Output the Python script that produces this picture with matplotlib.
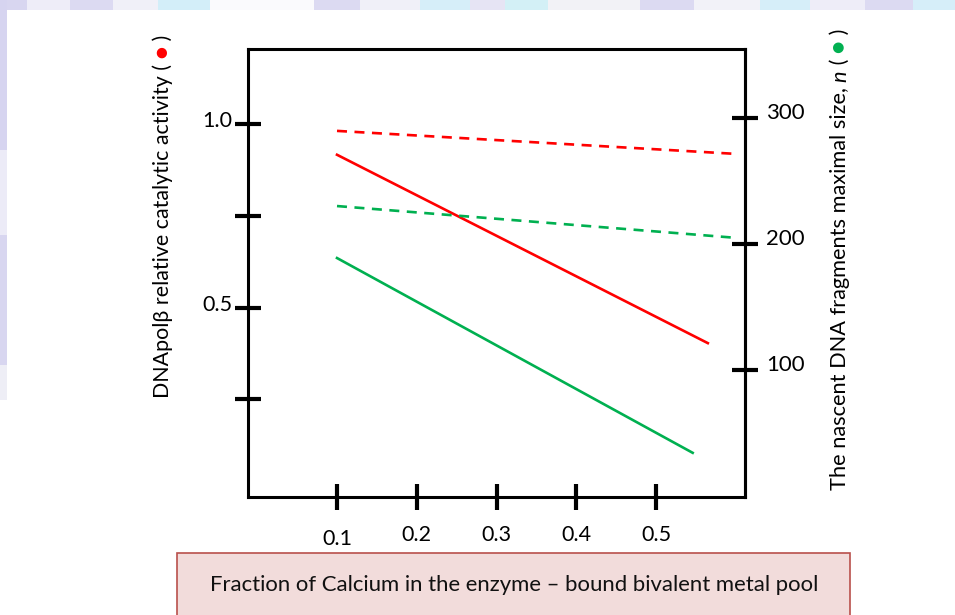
import matplotlib
matplotlib.use("Agg")
import matplotlib.pyplot as plt
import matplotlib.transforms as mtransforms
from matplotlib.patches import Rectangle

plt.rcParams['font.family'] = ['Lato', 'DejaVu Sans']
plt.rcParams['lines.scale_dashes'] = False

# ---------------- data ----------------
red_solid_x = [0.1, 0.565]
red_solid_y = [0.916, 0.403]          # left axis
red_dash_x = [0.1, 0.603]
red_dash_y = [0.981, 0.918]           # left axis
green_solid_x = [0.1, 0.546]
green_solid_y = [188.9, 34.1]         # right axis
green_dash_x = [0.1, 0.603]
green_dash_y = [230.2, 204.8]         # right axis

x_ticks = [0.1, 0.2, 0.3, 0.4, 0.5]
x_tick_labels = ['0.1', '0.2', '0.3', '0.4', '0.5']
left_ticks = [0.25, 0.5, 0.75, 1.0]
left_tick_labels = ['', '0.5', '', '1.0']
right_ticks = [100, 200, 300]
right_tick_labels = ['100', '200', '300']

left_label_parts = [("DNApolβ relative catalytic activity (", 'black', 'normal'),
                    (" ●", '#FF0000', 'normal'),
                    (" )", 'black', 'normal')]
right_label_parts = [("The nascent DNA fragments maximal size, ", 'black', 'normal'),
                     ("n", 'black', 'italic'),
                     (" (", 'black', 'normal'),
                     (" ●", '#00B050', 'normal'),
                     (" )", 'black', 'normal')]
x_title = "Fraction of Calcium in the enzyme – bound bivalent metal pool"

RED = '#FF0000'
GREEN = '#00B050'

# ---------------- figure ----------------
W, H = 955, 615
fig = plt.figure(figsize=(W / 100, H / 100), dpi=100)
fig.patch.set_facecolor('white')

# slide background decoration (top and left strips)
top_segments = [(0, 27, '#D8D6F0'), (27, 70, '#EEEDF8'), (70, 113, '#DCDAF2'),
                (113, 158, '#F0F0F8'), (158, 210, '#D3EEF9'), (210, 314, '#FAFAFD'),
                (314, 360, '#DCDAF2'), (360, 420, '#F0F0F8'), (420, 470, '#D6EEF9'),
                (470, 505, '#E6E4F4'), (505, 548, '#D3F0F6'), (548, 640, '#F2F2F6'),
                (640, 694, '#DCDAF2'), (694, 760, '#F2F2F8'), (760, 810, '#D6EEF9'),
                (810, 865, '#EEEDF8'), (865, 913, '#DCDAF2'), (913, 955, '#D6EEF9')]
for x0, x1, c in top_segments:
    fig.patches.append(Rectangle((x0 / W, 1 - 10 / H), (x1 - x0) / W, 10 / H,
                                 transform=fig.transFigure, facecolor=c,
                                 edgecolor='none', zorder=0))
left_segments = [(0, 150, '#D6D4F0'), (150, 235, '#ECEBF7'), (235, 365, '#D8D6F0'),
                 (365, 400, '#EEEEF6')]
for y0, y1, c in left_segments:
    fig.patches.append(Rectangle((0, 1 - y1 / H), 7 / W, (y1 - y0) / H,
                                 transform=fig.transFigure, facecolor=c,
                                 edgecolor='none', zorder=0))

# bottom pink title box
fig.patches.append(Rectangle((177 / W, -0.02), (850 - 177) / W, 0.02 + (615 - 553) / H,
                             transform=fig.transFigure, facecolor='#F2DCDB',
                             edgecolor='#B9504C', linewidth=1.2, zorder=1))

# ---------------- axes ----------------
ax = fig.add_axes([248 / W, 1 - 497 / H, (745 - 248) / W, (497 - 49) / H])
ax.set_facecolor('none')
ax.set_xlim(-0.0116, 0.6116)
ax.set_ylim(-0.016, 1.204)
ax2 = ax.twinx()
ax2.set_ylim(-1, 355)

ax.plot(red_dash_x, red_dash_y, color=RED, lw=1.9, dashes=(7.2, 5.4))
ax.plot(red_solid_x, red_solid_y, color=RED, lw=1.9)
ax2.plot(green_dash_x, green_dash_y, color=GREEN, lw=1.9, dashes=(7.2, 5.4))
ax2.plot(green_solid_x, green_solid_y, color=GREEN, lw=1.9)

for sp in ax.spines.values():
    sp.set_linewidth(2.2)
    sp.set_color('black')
for name, sp in ax2.spines.items():
    sp.set_linewidth(2.2)
    sp.set_visible(name == 'right')

ax.set_xticks(x_ticks)
ax.set_xticklabels(x_tick_labels)
ax.set_yticks(left_ticks)
ax.set_yticklabels(left_tick_labels)
ax2.set_yticks(right_ticks)
ax2.set_yticklabels(right_tick_labels)

TL = 19.4
ax.tick_params(axis='x', direction='inout', length=TL, width=3, pad=10.5, labelsize=15.5)
ax.tick_params(axis='y', left=True, right=False, direction='inout', length=TL,
               width=3, pad=1.5, labelsize=15.5)
ax2.tick_params(axis='y', direction='inout', length=TL, width=3, pad=5.5, labelsize=16)
ax.minorticks_off()
ax2.minorticks_off()

# small vertical offsets of the tick labels as in the reference
up5 = mtransforms.ScaledTranslation(0, 0.05, fig.dpi_scale_trans)
up7 = mtransforms.ScaledTranslation(0, 0.07, fig.dpi_scale_trans)
down4 = mtransforms.ScaledTranslation(0, -0.035, fig.dpi_scale_trans)
for lab in ax.get_yticklabels():
    lab.set_transform(lab.get_transform() + up5)
for lab in ax2.get_yticklabels():
    lab.set_transform(lab.get_transform() + up7)
xl = ax.get_xticklabels()
xl[0].set_transform(xl[0].get_transform() + down4)

# ---------------- rotated axis labels built from pieces ----------------
renderer = fig.canvas.get_renderer()
ident = mtransforms.IdentityTransform()


def rotated_label(parts, x_base_px, y_start_px, y_end_px, base=14):
    texts = []
    for txt, col, sty in parts:
        t = fig.text(0, 0, txt, fontsize=base, color=col, style=sty, rotation=90,
                     rotation_mode='anchor', ha='left', va='baseline',
                     transform=ident)
        texts.append(t)
    total = sum(t.get_window_extent(renderer).height for t in texts)
    size = base * (y_end_px - y_start_px) / total
    y = y_start_px
    for t in texts:
        t.set_fontsize(size)
        t.set_position((x_base_px, y))
        y += t.get_window_extent(renderer).height
    return texts


rotated_label(left_label_parts, 169, H - 398, H - 35)
rotated_label(right_label_parts, 846, H - 490, H - 27)

# bottom title, fitted to the width in the reference
tt = fig.text(514 / W, 1 - 585 / H, x_title, ha='center', va='center', fontsize=14,
              color='#111111', zorder=3)
w = tt.get_window_extent(renderer).width
tt.set_fontsize(14 * 612 / w)

fig.savefig('out.png', dpi=100)
